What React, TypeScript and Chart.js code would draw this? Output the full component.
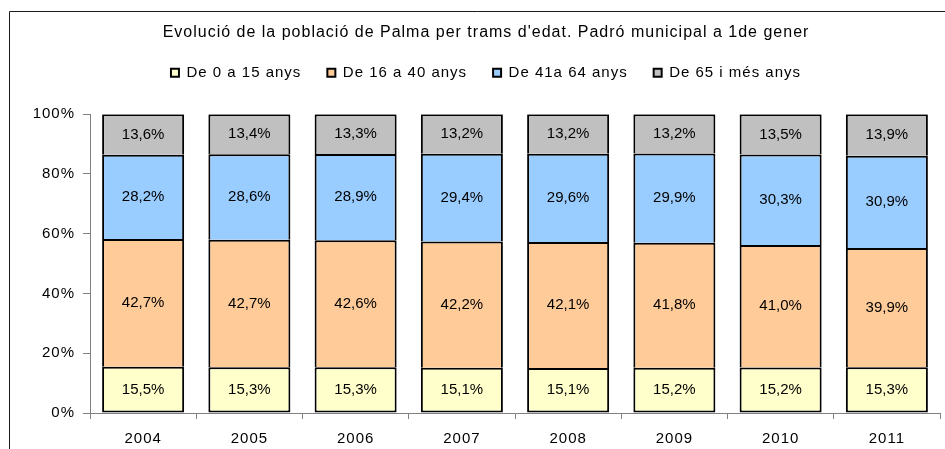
import React, { useEffect, useRef } from 'react';
import { Chart, registerables } from 'chart.js';

Chart.register(...registerables);

const chartTitle = "Evolució de la població de Palma per trams d'edat. Padró municipal a 1de gener";
const years = ['2004', '2005', '2006', '2007', '2008', '2009', '2010', '2011'];
const seriesNames = ['De 0 a 15 anys', 'De 16 a 40 anys', 'De 41a 64 anys', 'De 65 i més anys'];
const age0to15 = [15.5, 15.3, 15.3, 15.1, 15.1, 15.2, 15.2, 15.3];
const age16to40 = [42.7, 42.7, 42.6, 42.2, 42.1, 41.8, 41.0, 39.9];
const age41to64 = [28.2, 28.6, 28.9, 29.4, 29.6, 29.9, 30.3, 30.9];
const age65plus = [13.6, 13.4, 13.3, 13.2, 13.2, 13.2, 13.5, 13.9];
const yTickValues = [0, 20, 40, 60, 80, 100];
const seriesColors = ['#FFFFCC', '#FFCC99', '#99CCFF', '#C0C0C0'];

const FONT = "'Liberation Sans', Arial, sans-serif";

const fmt = (v: number) => v.toFixed(1).replace('.', ',') + '%';

const letterSpacingPlugin = {
  id: 'letterSpacingPlugin',
  beforeLayout(chart: any) {
    chart.ctx.letterSpacing = '1px';
  },
  beforeDraw(chart: any) {
    chart.ctx.letterSpacing = '1px';
  },
};

const framePlugin = {
  id: 'framePlugin',
  beforeDraw(chart: any) {
    const ctx = chart.ctx;
    ctx.save();
    ctx.strokeStyle = '#1a1a1a';
    ctx.lineWidth = 1;
    ctx.beginPath();
    ctx.moveTo(9.5, chart.height);
    ctx.lineTo(9.5, 11.5);
    ctx.lineTo(chart.width, 11.5);
    ctx.stroke();
    ctx.restore();
  },
};

const rawSeries = [age0to15, age16to40, age41to64, age65plus];

const dataLabelPlugin = {
  id: 'dataLabelPlugin',
  afterDatasetsDraw(chart: any) {
    const ctx = chart.ctx;
    ctx.save();
    ctx.letterSpacing = '0px';
    ctx.font = `15px ${FONT}`;
    ctx.fillStyle = '#000';
    ctx.textAlign = 'center';
    ctx.textBaseline = 'middle';
    chart.data.datasets.forEach((ds: any, di: number) => {
      const meta = chart.getDatasetMeta(di);
      meta.data.forEach((bar: any, i: number) => {
        const { x, y, base } = bar.getProps(['x', 'y', 'base'], true);
        ctx.fillText(fmt(rawSeries[di][i]), x, (y + base) / 2);
      });
    });
    ctx.restore();
  },
};

export default function App() {
  const canvasRef = useRef<HTMLCanvasElement | null>(null);

  useEffect(() => {
    if (!canvasRef.current) return;
    const totals = years.map((_, i) => rawSeries.reduce((s, arr) => s + arr[i], 0));
    const datasets = rawSeries.map((arr, di) => ({
      label: seriesNames[di],
      data: arr.map((v, i) => (v / totals[i]) * 100),
      backgroundColor: seriesColors[di],
      borderColor: '#000000',
      borderWidth: 2,
      borderSkipped: di === 0 ? false : 'bottom',
      categoryPercentage: 1,
      barPercentage: 0.772,
    }));

    const chart = new Chart(canvasRef.current, {
      type: 'bar',
      data: { labels: years, datasets: datasets as any },
      plugins: [letterSpacingPlugin, framePlugin, dataLabelPlugin],
      options: {
        animation: false,
        responsive: false,
        maintainAspectRatio: false,
        layout: { padding: { left: 32, right: 5, top: 0, bottom: -10 } },
        plugins: {
          title: {
            display: true,
            text: chartTitle,
            color: '#000',
            font: { family: FONT, size: 16, weight: 'normal' },
            padding: { top: 23, bottom: -3 },
          },
          subtitle: {
            display: true,
            text: '',
            position: 'top',
            weight: 500,
            font: { family: FONT, size: 10, lineHeight: 1 },
            padding: { top: 14, bottom: 0 },
          } as any,
          legend: {
            display: true,
            position: 'top',
            labels: {
              color: '#000',
              font: { family: FONT, size: 15 },
              boxWidth: 8,
              boxHeight: 8,
              padding: 26,
            },
          },
          tooltip: { enabled: false },
        },
        scales: {
          x: {
            stacked: true,
            offset: true,
            grid: {
              offset: true,
              drawOnChartArea: false,
              drawTicks: true,
              tickLength: 6,
              color: '#808080',
            },
            border: { display: true, color: '#808080', width: 1 },
            ticks: {
              color: '#000',
              font: { family: FONT, size: 15 },
              padding: 11,
              maxRotation: 0,
            },
          },
          y: {
            stacked: true,
            min: 0,
            max: 100,
            afterFit: (scale: any) => {
              scale.width = 58;
            },
            afterBuildTicks: (scale: any) => {
              scale.ticks = yTickValues.map((v) => ({ value: v }));
            },
            grid: {
              drawOnChartArea: false,
              drawTicks: true,
              tickLength: 7,
              color: '#808080',
            },
            border: { display: true, color: '#808080', width: 1 },
            ticks: {
              color: '#000',
              font: { family: FONT, size: 15 },
              padding: 8,
              callback: (v: any) => `${v}%`,
            },
          },
        },
      },
    });
    return () => chart.destroy();
  }, []);

  return (
    <div style={{ position: 'absolute', left: 0, top: 0, width: 945, height: 449, background: '#fff' }}>
      <canvas ref={canvasRef} width={945} height={449} style={{ display: 'block' }} />
    </div>
  );
}
